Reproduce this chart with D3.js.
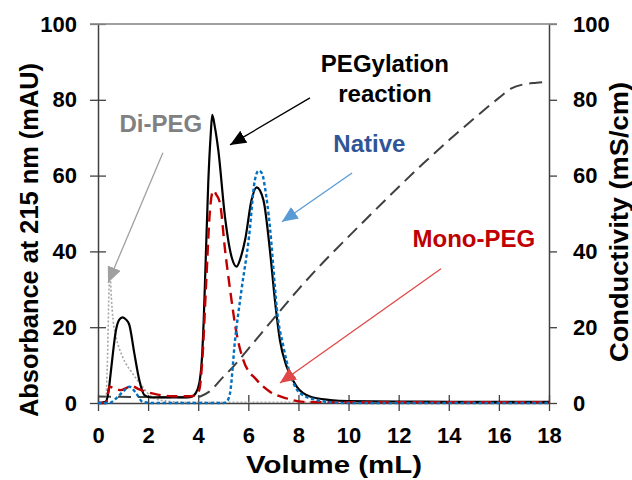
<!DOCTYPE html>
<html>
<head>
<meta charset="utf-8">
<script src="https://cdn.jsdelivr.net/npm/d3@7"></script>
<style>
  html, body { margin: 0; padding: 0; background: #fff; }
  svg { display: block; font-family: "Liberation Sans", Arial, sans-serif; font-weight: bold; }
</style>
</head>
<body>
<svg id="chart" width="632" height="480"></svg>
<script>
// ---- data ----
const xTicks = [0, 2, 4, 6, 8, 10, 12, 14, 16, 18];
const yTicks = [0, 20, 40, 60, 80, 100];

const reactionVol = [0, 0.3, 0.42, 0.52, 0.72, 0.85, 0.98, 1.12, 1.25, 1.45, 1.65, 1.85, 2.1, 2.5, 3.0, 3.5, 3.75, 3.9, 4.05, 4.15, 4.22, 4.3, 4.4, 4.5, 4.56, 4.66, 4.8, 5.07, 5.33, 5.53, 5.7, 5.87, 6.13, 6.33, 6.6, 6.86, 7.06, 7.26, 7.53, 7.93, 8.46, 9.26, 10, 12, 14, 16, 18];
const reactionAbs = [0, 0.3, 3, 8.7, 19.3, 22, 22.6, 22, 20.6, 13.1, 6, 2.1, 1.5, 1.5, 1.5, 1.5, 1.7, 2.6, 5.5, 12, 22, 38, 58, 71, 76, 73, 66.8, 49, 38.6, 36, 38.5, 43, 53.6, 56.9, 53.6, 40.4, 27.2, 16.6, 9.6, 4.3, 1.7, 0.8, 0.5, 0.4, 0.3, 0.3, 0.3];

const nativeVol = [0, 0.45, 0.72, 1.0, 1.25, 1.52, 1.78, 2.2, 5.0, 5.15, 5.27, 5.47, 5.72, 6.03, 6.26, 6.41, 6.55, 6.66, 6.86, 7.06, 7.13, 7.4, 7.66, 8.06, 8.73, 9.3, 10, 18];
const nativeAbs = [0, 0, 1.2, 3.0, 4.3, 2.6, 0.3, 0, 0, 0.5, 2.6, 16.6, 29.5, 44, 58.8, 61.3, 60.5, 57, 46.5, 30.7, 25.4, 14.9, 7.8, 2.6, 0.8, 0.2, 0, 0];

const monoVol = [0, 0.32, 0.45, 0.65, 0.92, 1.12, 1.32, 1.65, 2.25, 2.98, 3.71, 3.9, 4.04, 4.18, 4.31, 4.47, 4.6, 4.72, 4.87, 5.07, 5.27, 5.53, 5.8, 6.33, 6.86, 7.53, 8.2, 10, 18];
const monoAbs = [0, 0, 4.3, 3.9, 3.4, 3.9, 4.5, 3.6, 2.4, 1.8, 1.8, 2.2, 3.4, 13.1, 30.7, 50.9, 56, 55, 52.7, 40.4, 30, 18.4, 11.3, 6.1, 3.0, 1.2, 0.3, 0.2, 0.2];

const diVol = [0, 0.3, 0.38, 0.44, 0.48, 0.53, 0.6, 0.72, 0.98, 1.38, 1.78, 2.05, 2.6, 3.5, 18];
const diAbs = [0, 0, 12, 30, 34, 28, 22, 17.5, 12.2, 7.8, 4.3, 2.1, 0.6, 0.2, 0.2];

const condVol = [0, 3.8, 4.1, 4.44, 5.0, 5.4, 6, 7, 8, 9, 10, 11, 12, 13, 14, 15, 16, 16.5, 17.0, 17.5, 18];
const condVal = [1.7, 1.5, 1.8, 3, 6.9, 9.6, 14.3, 22.2, 30, 37.2, 43.9, 50.5, 57, 63.3, 69.3, 75, 80.5, 83, 84.1, 84.5, 84.8];

// annotation labels (data units: volume, absorbance)
const noteText  = ["PEGylation", "reaction", "Native", "Di-PEG", "Mono-PEG"];
const noteVol   = [11.45, 11.45, 10.83, 2.51, 15.0];
const noteAbs   = [87.3, 79.4, 66.2, 71.5, 41.2];
// arrows: start (vol, abs) -> tip (vol, abs)
const arrowFromVol = [8.46, 10.14, 13.69, 2.59];
const arrowFromAbs = [80.5, 60.7, 35.4, 66.0];
const arrowToVol   = [5.27, 7.34, 7.26, 0.40];
const arrowToAbs   = [68.1, 47.8, 5.3, 31.7];

// ---- styling / layout ----
const noteColor  = ["#000000", "#000000", "#2f5597", "#808080", "#c00000"];
const arrowColor = ["#000000", "#5b9bd5", "#e04848", "#a0a0a0"];
const margin = { left: 98, right: 632 - 549, top: 24, bottom: 480 - 403 };
const W = 632, H = 480;

const svg = d3.select("#chart");
const x = d3.scaleLinear().domain([0, 18]).range([margin.left, W - margin.right]);
const yL = d3.scaleLinear().domain([0, 100]).range([H - margin.bottom, margin.top]);
const yR = d3.scaleLinear().domain([0, 100]).range([H - margin.bottom, margin.top]);

// top border
svg.append("line")
  .attr("x1", x(0) - 8).attr("x2", x(18) + 8)
  .attr("y1", yL(100)).attr("y2", yL(100))
  .attr("stroke", "#808080").attr("stroke-width", 1.5);

// axes
const axisColor = "#404040";
const gL = svg.append("g").attr("transform", `translate(${x(0)},0)`)
  .call(d3.axisLeft(yL).tickValues(yTicks).tickSizeInner(8).tickSizeOuter(0).tickPadding(13));
gL.selectAll(".tick line").attr("x1", 8);
const gR = svg.append("g").attr("transform", `translate(${x(18)},0)`)
  .call(d3.axisRight(yR).tickValues(yTicks).tickSizeInner(8).tickSizeOuter(0).tickPadding(16));
const gB = svg.append("g").attr("transform", `translate(0,${yL(0)})`)
  .call(d3.axisBottom(x).tickValues(xTicks).tickSizeInner(8).tickSizeOuter(0).tickPadding(16));
gB.selectAll(".tick line").attr("y1", -8);

[gL, gR, gB].forEach(g => {
  g.selectAll("path.domain").attr("stroke", axisColor).attr("stroke-width", 1.5);
  g.selectAll(".tick line").attr("stroke", axisColor).attr("stroke-width", 1.3);
  g.selectAll(".tick text").attr("fill", "#000").style("font-size", "22px")
    .style("font-family", "'Liberation Sans', Arial, sans-serif").style("font-weight", "bold");
});
gL.select(".tick:last-of-type line").attr("stroke", "#808080");
gR.select(".tick:last-of-type line").attr("stroke", "#808080");

// axis titles
svg.append("text")
  .attr("x", 334).attr("y", 473).attr("text-anchor", "middle")
  .attr("textLength", 176).attr("lengthAdjust", "spacingAndGlyphs")
  .style("font-size", "24px").text("Volume (mL)");
svg.append("text")
  .attr("transform", "translate(38,240) rotate(-90)").attr("text-anchor", "middle")
  .attr("textLength", 354).attr("lengthAdjust", "spacingAndGlyphs")
  .style("font-size", "25px").text("Absorbance at 215 nm (mAU)");
svg.append("text")
  .attr("transform", "translate(628,222) rotate(-90)").attr("text-anchor", "middle")
  .attr("textLength", 280).attr("lengthAdjust", "spacingAndGlyphs")
  .style("font-size", "25px").text("Conductivity (mS/cm)");

// series
const plot = svg.append("g");
function series(vols, vals, yScale, color, width, dash) {
  const pts = vols.map((v, i) => [v, vals[i]]);
  const line = d3.line().x(d => x(d[0])).y(d => yScale(d[1])).curve(d3.curveMonotoneX);
  plot.append("path").datum(pts)
    .attr("d", line).attr("fill", "none")
    .attr("stroke", color).attr("stroke-width", width)
    .attr("stroke-dasharray", dash).attr("stroke-linejoin", "round");
}
series(condVol, condVal, yR, "#404040", 2, "13,7");
series(diVol, diAbs, yL, "#a6a6a6", 1.6, "2,2");
series(reactionVol, reactionAbs, yL, "#000000", 2.2, null);
series(monoVol, monoAbs, yL, "#c00000", 2.4, "11,6");
series(nativeVol, nativeAbs, yL, "#0070c0", 2.4, "3.5,2.5");

// arrow markers
const defs = svg.append("defs");
arrowColor.forEach((c, i) => {
  defs.append("marker").attr("id", "ah" + i)
    .attr("markerUnits", "userSpaceOnUse")
    .attr("markerWidth", 16).attr("markerHeight", 14)
    .attr("refX", 16).attr("refY", 7).attr("orient", "auto")
    .append("path").attr("d", "M0,0 L16,7 L0,14 Z").attr("fill", c);
});
arrowColor.forEach((c, i) => {
  svg.append("line")
    .attr("x1", x(arrowFromVol[i])).attr("y1", yL(arrowFromAbs[i]))
    .attr("x2", x(arrowToVol[i])).attr("y2", yL(arrowToAbs[i]))
    .attr("stroke", c).attr("stroke-width", 1.3)
    .attr("marker-end", `url(#ah${i})`);
});

// labels
noteText.forEach((t, i) => {
  svg.append("text")
    .attr("x", x(noteVol[i])).attr("y", yL(noteAbs[i]))
    .attr("text-anchor", "middle").attr("fill", noteColor[i])
    .style("font-size", "24px").text(t);
});
</script>
</body>
</html>
